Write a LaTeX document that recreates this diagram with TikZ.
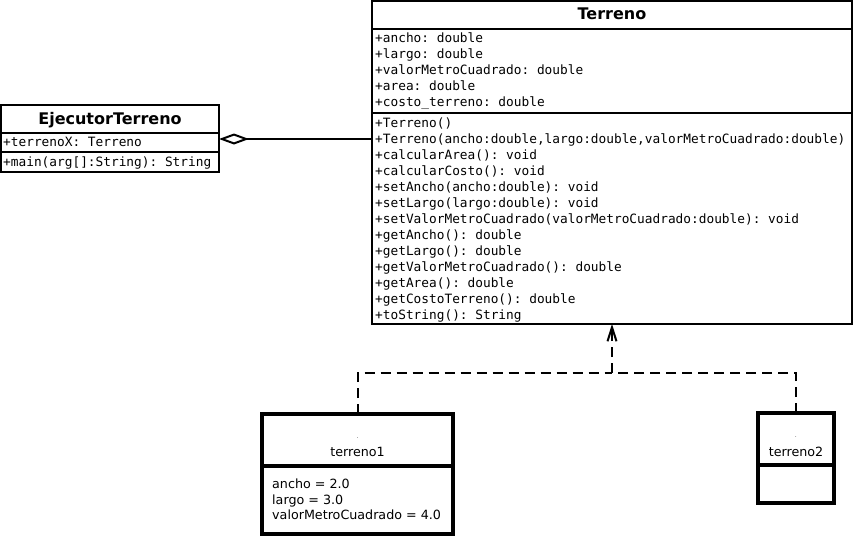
\documentclass[tikz,border=0pt]{standalone}
\usepackage{fontspec}
\setmainfont{DejaVu Sans}
\setmonofont{DejaVu Sans Mono}
\usetikzlibrary{arrows.meta}
\begin{document}
\begin{tikzpicture}[x=1pt,y=-1pt,
  cls/.style={draw,line width=2pt,inner sep=0pt,outer sep=0pt,anchor=north west},
  objbox/.style={draw,line width=3.5pt,inner sep=0pt,outer sep=0pt,anchor=north west},
  mono/.style={font=\fontsize{12.8}{16}\selectfont\ttfamily,inner sep=0pt,anchor=base west},
  hd/.style={font=\fontsize{16}{18}\selectfont\bfseries,inner sep=0pt,anchor=base},
  objtxt/.style={font=\fontsize{12.7}{16}\selectfont,inner sep=0pt},
  dotmark/.style={font=\fontsize{5}{6}\selectfont,inner sep=0pt,anchor=base},
  dep/.style={line width=2pt,dash pattern=on 10pt off 6pt}
]
\fill[white] (0,0) rectangle (854,538);
\useasboundingbox (0,0) rectangle (854,538);

% EjecutorTerreno
\node[cls,minimum width=218pt,minimum height=28pt] (ejH) at (1,105) {};
\node[cls,minimum width=218pt,minimum height=19pt] (ejA) at (1,133) {};
\node[cls,minimum width=218pt,minimum height=20pt] (ejM) at (1,152) {};
\node[hd] (ejT) at (110,124) {EjecutorTerreno};
\node[mono] (ejA1) at (3,146.7) {+terrenoX: Terreno};
\node[mono] (ejM1) at (3,166.7) {+main(arg[]:String): String};

% Terreno
\node[cls,minimum width=480pt,minimum height=28pt] (tH) at (372,1) {};
\node[cls,minimum width=480pt,minimum height=84pt] (tA) at (372,29) {};
\node[cls,minimum width=480pt,minimum height=211pt] (tM) at (372,113) {};
\node[hd] (tT) at (612,19.5) {Terreno};
\foreach [count=\i] \t in {{+ancho: double},{+largo: double},{+valorMetroCuadrado: double},{+area: double},{+costo\_terreno: double}}
  \node[mono] (ta\i) at (375,{42.7+16*(\i-1)}) {\t};
\foreach [count=\i] \t in {{+Terreno()},{+Terreno(ancho:double,largo:double,valorMetroCuadrado:double)},{+calcularArea(): void},{+calcularCosto(): void},{+setAncho(ancho:double): void},{+setLargo(largo:double): void},{+setValorMetroCuadrado(valorMetroCuadrado:double): void},{+getAncho(): double},{+getLargo(): double},{+getValorMetroCuadrado(): double},{+getArea(): double},{+getCostoTerreno(): double},{+toString(): String}}
  \node[mono] (tm\i) at (375,{127.3+16*(\i-1)}) {\t};

% terreno1
\node[objbox,minimum width=191pt,minimum height=52pt] (t1H) at (262,414) {};
\node[objbox,minimum width=191pt,minimum height=68pt] (t1B) at (262,466) {};
\node[dotmark] (t1d) at (357.5,438) {.};
\node[objtxt,anchor=base] (t1n) at (357.5,456) {terreno1};
\node[objtxt,anchor=base west] (t1a) at (272,488.3) {ancho = 2.0};
\node[objtxt,anchor=base west] (t1b) at (272,504) {largo = 3.0};
\node[objtxt,anchor=base west] (t1c) at (272,519.5) {valorMetroCuadrado = 4.0};

% terreno2
\node[objbox,minimum width=76pt,minimum height=52pt] (t2H) at (758,413) {};
\node[objbox,minimum width=76pt,minimum height=38pt] (t2B) at (758,465) {};
\node[dotmark] (t2d) at (796,437) {.};
\node[objtxt,anchor=base] (t2n) at (796,456) {terreno2};

% connectors
\coordinate (aggy) at (0,139);
\draw[line width=2pt,{Diamond[open,length=30pt,width=11pt]}-] (ejA.east |- aggy) -- (tM.west |- aggy);
\coordinate (j) at (612,373);
\draw[dep] (t1H.north) |- (j);
\draw[dep] (t2H.north) |- (j);
\draw[dep,-{Straight Barb[length=14pt,width=9pt]}] (j) -- (tM.south);
\end{tikzpicture}
\end{document}
